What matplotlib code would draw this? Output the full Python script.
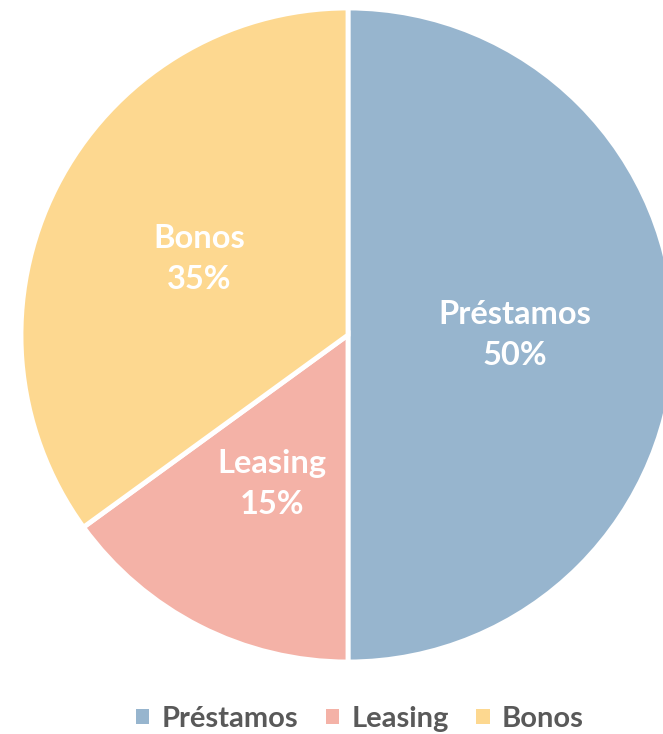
import matplotlib.pyplot as plt
from matplotlib.patches import Patch

categories = ["Préstamos", "Leasing", "Bonos"]
shares = [50, 15, 35]
colors = ["#97B5CE", "#F4B2A7", "#FDD890"]

W, H = 663, 734
fig = plt.figure(figsize=(W / 100, H / 100), dpi=100)
ax = fig.add_axes([0, 0, 1, 1])

labels = [f"{c}\n{v}%" for c, v in zip(categories, shares)]
wedges, texts = ax.pie(
    shares,
    colors=colors,
    labels=labels,
    labeldistance=0.51,
    startangle=90,
    counterclock=False,
    center=(348, H - 335),
    radius=327,
    wedgeprops=dict(edgecolor="white", linewidth=3.5),
    textprops=dict(color="white", fontsize=23.5, fontweight="bold",
                   family="Lato", ha="center", va="center", linespacing=1.5),
)
ax.set_xlim(0, W)
ax.set_ylim(0, H)
ax.set_aspect("equal")
ax.axis("off")

handles = [Patch(facecolor=c, edgecolor="none") for c in colors]
leg = fig.legend(
    handles, categories,
    loc="center", bbox_to_anchor=(0.543, 1 - 719 / H),
    ncol=3, frameon=False,
    handlelength=0.45, handleheight=0.45, handletextpad=0.42,
    columnspacing=0.95,
    prop=dict(family="Lato", weight="bold", size=21),
)
for t in leg.get_texts():
    t.set_color("#595959")

fig.savefig("out.png", dpi=100)
